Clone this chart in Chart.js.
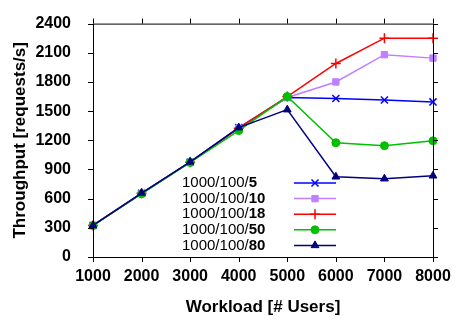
<!DOCTYPE html>
<html>
<head>
<meta charset="utf-8">
<script src="https://cdn.jsdelivr.net/npm/chart.js@4"></script>
<style>
  html, body { margin: 0; padding: 0; background: #fff; }
  #wrap { width: 456px; height: 320px; }
</style>
</head>
<body>
<div id="wrap"><canvas id="myChart" width="456" height="320"></canvas></div>
<script>
// workload (users) and measured throughput per config
const users = [1000, 2000, 3000, 4000, 5000, 6000, 7000, 8000];
const labels = ["1000/100/5", "1000/100/10", "1000/100/18", "1000/100/50", "1000/100/80"];
const tp5 = [324, 655, 975, 1330, 1640, 1630, 1615, 1595];
const tp10 = [324, 655, 975, 1325, 1640, 1800, 2080, 2045];
const tp18 = [324, 655, 975, 1325, 1650, 1990, 2250, 2250];
const tp50 = [324, 650, 972, 1300, 1650, 1175, 1145, 1195];
const tp80 = [324, 658, 978, 1330, 1515, 825, 805, 835];

const colors = ["#0000ff", "#bf80ff", "#ff0000", "#00c000", "#000080"];
const markers = ["crossRot", "rect", "cross", "circle", "triangle"];
const radii = [5, 4.5, 5, 4, 4.5];
const allSeries = [tp5, tp10, tp18, tp50, tp80];

const fontFamily = "'Liberation Sans', Arial, sans-serif";

function makeDataset(values, i) {
  return {
    label: labels[i],
    data: values.map((v, j) => ({ x: users[j], y: v })),
    borderColor: colors[i],
    backgroundColor: colors[i],
    borderWidth: 1.5,
    pointStyle: markers[i],
    pointRadius: radii[i],
    pointBorderWidth: markers[i] === "cross" || markers[i] === "crossRot" ? 1.5 : 1,
    pointBackgroundColor: colors[i],
    pointBorderColor: colors[i],
    tension: 0,
    clip: false,
    order: allSeries.length - i,
  };
}

// box around the plot with outward tics on all four sides
const frameTicks = {
  id: "frameTicks",
  afterDraw(chart) {
    const { ctx, chartArea: a, scales } = chart;
    const len = 5;
    ctx.save();
    ctx.strokeStyle = "#000";
    ctx.lineWidth = 1;
    ctx.strokeRect(a.left + 0.5, a.top + 0.5, a.right - a.left, a.bottom - a.top);
    ctx.beginPath();
    scales.x.ticks.forEach((t) => {
      const px = Math.round(scales.x.getPixelForValue(t.value)) + 0.5;
      ctx.moveTo(px, a.bottom);
      ctx.lineTo(px, a.bottom + len);
      ctx.moveTo(px, a.top);
      ctx.lineTo(px, a.top - len);
    });
    scales.y.ticks.forEach((t) => {
      const py = Math.round(scales.y.getPixelForValue(t.value)) + 0.5;
      ctx.moveTo(a.left, py);
      ctx.lineTo(a.left - len, py);
      ctx.moveTo(a.right, py);
      ctx.lineTo(a.right + len, py);
    });
    ctx.stroke();
    ctx.restore();
  },
};

// key inside the plot: label text (last number bold) then a line sample with marker
const sampleKey = {
  id: "sampleKey",
  afterDatasetsDraw(chart) {
    const { ctx } = chart;
    const textX = 182;
    const lineX1 = 294;
    const lineX2 = 336;
    const firstY = 183;
    const gap = 15.6;
    ctx.save();
    chart.data.datasets.forEach((ds, i) => {
      const y = firstY + i * gap;
      const cut = ds.label.lastIndexOf("/") + 1;
      const head = ds.label.slice(0, cut);
      const tail = ds.label.slice(cut);
      ctx.textBaseline = "middle";
      ctx.textAlign = "left";
      ctx.fillStyle = "#000";
      ctx.font = "15px " + fontFamily;
      ctx.fillText(head, textX, y);
      const w = ctx.measureText(head).width;
      ctx.font = "bold 15px " + fontFamily;
      ctx.fillText(tail, textX + w, y);

      ctx.strokeStyle = ds.borderColor;
      ctx.lineWidth = ds.borderWidth;
      ctx.beginPath();
      ctx.moveTo(lineX1, y);
      ctx.lineTo(lineX2, y);
      ctx.stroke();
      ctx.fillStyle = ds.backgroundColor;
      ctx.lineWidth = ds.pointBorderWidth;
      Chart.helpers.drawPoint(ctx, {
        pointStyle: ds.pointStyle,
        radius: ds.pointRadius,
        rotation: 0,
        borderWidth: ds.pointBorderWidth,
      }, (lineX1 + lineX2) / 2, y);
    });
    ctx.restore();
  },
};

const plainNumber = (v) => String(v);

const config = {
  type: "line",
  data: { datasets: allSeries.map(makeDataset) },
  options: {
    responsive: false,
    animation: false,
    events: [],
    layout: { padding: { top: 22, right: 23, left: 0, bottom: 0 } },
    plugins: { legend: { display: false }, tooltip: { enabled: false } },
    scales: {
      x: {
        type: "linear",
        min: 1000,
        max: 8000,
        ticks: {
          stepSize: 1000,
          color: "#000",
          padding: 2,
          maxRotation: 0,
          callback: plainNumber,
          font: { family: fontFamily, size: 16, weight: "bold" },
        },
        grid: { display: false },
        border: { display: false },
        title: {
          display: true,
          text: "Workload [# Users]",
          color: "#000",
          padding: { top: 0, bottom: 2 },
          font: { family: fontFamily, size: 17, weight: "bold" },
        },
        afterFit: (s) => { s.height = 63; },
      },
      y: {
        type: "linear",
        min: 0,
        max: 2400,
        ticks: {
          stepSize: 300,
          color: "#000",
          padding: 14,
          callback: plainNumber,
          font: { family: fontFamily, size: 16, weight: "bold" },
        },
        grid: { display: false },
        border: { display: false },
        title: {
          display: true,
          text: "Throughput [requests/s]",
          color: "#000",
          padding: { top: 10, bottom: 0 },
          font: { family: fontFamily, size: 17, weight: "bold" },
        },
        afterFit: (s) => { s.width = 93; },
      },
    },
  },
  plugins: [frameTicks, sampleKey],
};

const chart = new Chart(document.getElementById("myChart"), config);
</script>
</body>
</html>
